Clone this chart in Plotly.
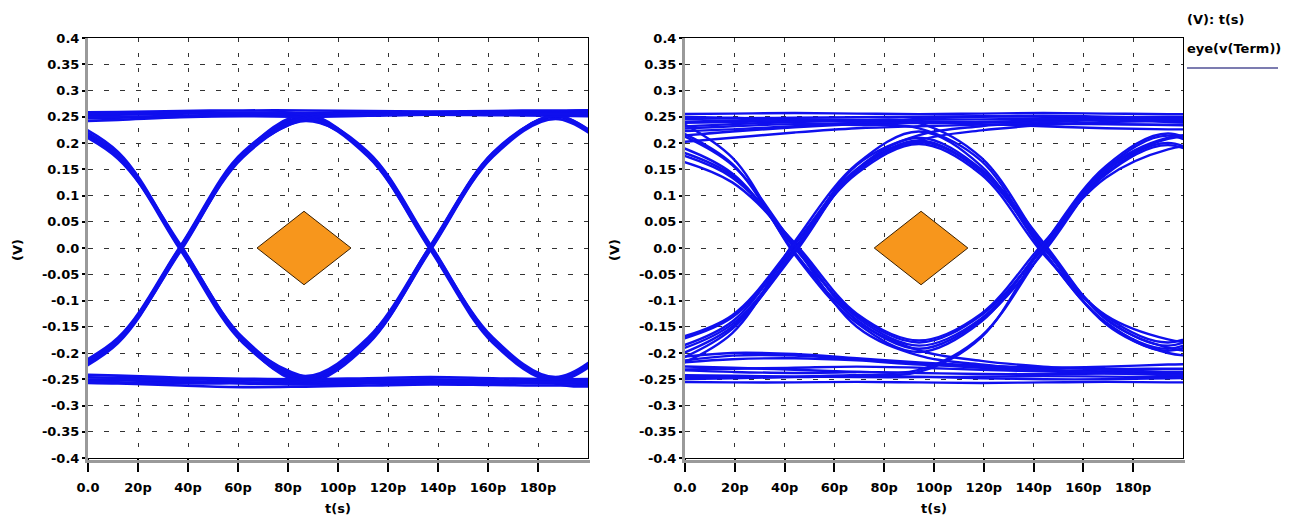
import plotly.graph_objects as go

W, H = 1292, 519

# ---------------- data ----------------
# sample times (ps) of every eye trace (samples outside 0..200 are clipped by the axis)
LEFT_T = [-13, 12, 37, 62, 87, 112, 137, 162, 187, 212]
RIGHT_T = [-6, 19, 44, 69, 94, 119, 144, 169, 194, 219]

# left eye: voltage traces (V) at LEFT_T
LEFT_WAVES = [
    # fall - rise
    [0.250, 0.178, 0.000, -0.176, -0.248, -0.176, 0.000, 0.178, 0.250, 0.178],
    [0.245, 0.173, -0.004, -0.181, -0.252, -0.181, -0.004, 0.174, 0.246, 0.175],
    [0.240, 0.170, 0.004, -0.171, -0.244, -0.171, 0.004, 0.181, 0.254, 0.255],
    [0.255, 0.183, 0.002, -0.178, -0.256, -0.183, -0.002, 0.176, 0.252, 0.180],
    [0.248, 0.176, 0.006, -0.173, -0.250, -0.178, 0.005, 0.182, 0.256, 0.258],
    # rise - fall
    [-0.250, -0.176, 0.000, 0.178, 0.250, 0.178, 0.000, -0.176, -0.250, -0.176],
    [-0.242, -0.171, 0.004, 0.183, 0.246, 0.174, -0.004, -0.181, -0.254, -0.182],
    [-0.255, -0.181, -0.004, 0.173, 0.242, 0.181, 0.004, -0.171, -0.246, -0.172],
    [-0.246, -0.174, 0.002, 0.180, 0.254, 0.176, -0.002, -0.178, -0.258, -0.258],
    [-0.252, -0.178, -0.006, 0.176, 0.248, 0.183, 0.006, -0.174, -0.252, -0.170],
    # high rail
    [0.252, 0.254, 0.256, 0.258, 0.257, 0.258, 0.259, 0.258, 0.257, 0.258],
    [0.246, 0.248, 0.250, 0.253, 0.254, 0.256, 0.255, 0.256, 0.254, 0.255],
    [0.258, 0.259, 0.261, 0.262, 0.262, 0.261, 0.260, 0.261, 0.262, 0.261],
    [0.240, 0.244, 0.249, 0.251, 0.250, 0.252, 0.254, 0.253, 0.252, 0.250],
    [0.250, 0.250, 0.252, 0.255, 0.256, 0.255, 0.257, 0.259, 0.260, 0.259],
    # low rail
    [-0.250, -0.252, -0.255, -0.256, -0.257, -0.256, -0.255, -0.256, -0.257, -0.256],
    [-0.245, -0.247, -0.250, -0.252, -0.254, -0.251, -0.250, -0.252, -0.253, -0.251],
    [-0.256, -0.258, -0.262, -0.265, -0.264, -0.262, -0.260, -0.261, -0.262, -0.260],
    [-0.240, -0.243, -0.247, -0.249, -0.250, -0.248, -0.246, -0.248, -0.250, -0.249],
    [-0.252, -0.250, -0.253, -0.258, -0.260, -0.258, -0.256, -0.255, -0.256, -0.255],
    # partial transitions
    [0.250, 0.175, 0.001, -0.178, -0.250, -0.256, -0.258, -0.257, -0.258, -0.257],
    [-0.250, -0.175, -0.001, 0.178, 0.250, 0.255, 0.258, 0.257, 0.258, 0.259],
    [0.255, 0.257, 0.258, 0.257, 0.252, 0.180, 0.001, -0.176, -0.250, -0.176],
    [-0.254, -0.256, -0.258, -0.257, -0.252, -0.178, -0.001, 0.178, 0.252, 0.178],
    [0.248, 0.178, -0.002, -0.176, -0.246, -0.252, -0.254, -0.253, -0.255, -0.254],
    [-0.246, -0.176, 0.002, 0.176, 0.246, 0.252, 0.255, 0.256, 0.255, 0.256],
]

# right eye: voltage traces (V) at RIGHT_T
RIGHT_WAVES = [
    # fall - rise
    [0.200, 0.142, 0.000, -0.128, -0.180, -0.128, 0.000, 0.142, 0.200, 0.140],
    [0.230, 0.160, -0.008, -0.137, -0.192, -0.137, -0.008, 0.146, 0.208, 0.210],
    [0.250, 0.172, -0.012, -0.143, -0.198, -0.140, 0.006, 0.152, 0.214, 0.150],
    [0.172, 0.125, 0.010, -0.125, -0.176, -0.125, 0.010, 0.134, 0.188, 0.200],
    [0.190, 0.138, 0.004, -0.132, -0.186, -0.134, 0.002, 0.140, 0.196, 0.138],
    # rise - fall
    [-0.180, -0.132, 0.000, 0.148, 0.205, 0.145, 0.000, -0.130, -0.180, -0.128],
    [-0.210, -0.150, -0.010, 0.150, 0.210, 0.150, 0.010, -0.136, -0.190, -0.200],
    [-0.230, -0.162, 0.012, 0.160, 0.222, 0.156, -0.008, -0.142, -0.196, -0.140],
    [-0.194, -0.140, 0.006, 0.142, 0.198, 0.140, -0.012, -0.128, -0.174, -0.186],
    [-0.200, -0.145, -0.004, 0.146, 0.202, 0.147, 0.004, -0.134, -0.186, -0.132],
    # high rail
    [0.255, 0.256, 0.257, 0.256, 0.255, 0.256, 0.257, 0.256, 0.255, 0.255],
    [0.245, 0.247, 0.248, 0.249, 0.250, 0.251, 0.250, 0.249, 0.250, 0.250],
    [0.230, 0.236, 0.240, 0.243, 0.244, 0.245, 0.246, 0.246, 0.245, 0.245],
    [0.212, 0.222, 0.230, 0.236, 0.240, 0.240, 0.238, 0.236, 0.234, 0.232],
    [0.200, 0.210, 0.220, 0.228, 0.232, 0.235, 0.236, 0.236, 0.235, 0.235],
    [0.238, 0.240, 0.242, 0.241, 0.240, 0.236, 0.232, 0.228, 0.226, 0.226],
    [0.222, 0.226, 0.232, 0.238, 0.246, 0.250, 0.252, 0.250, 0.248, 0.248],
    [0.250, 0.248, 0.244, 0.240, 0.238, 0.240, 0.243, 0.245, 0.240, 0.236],
    # low rail
    [-0.255, -0.256, -0.256, -0.255, -0.256, -0.257, -0.256, -0.255, -0.256, -0.256],
    [-0.242, -0.243, -0.245, -0.246, -0.246, -0.245, -0.244, -0.245, -0.246, -0.246],
    [-0.225, -0.228, -0.232, -0.236, -0.238, -0.240, -0.240, -0.239, -0.238, -0.238],
    [-0.210, -0.200, -0.202, -0.210, -0.218, -0.224, -0.228, -0.230, -0.230, -0.230],
    [-0.218, -0.205, -0.205, -0.212, -0.220, -0.228, -0.232, -0.235, -0.236, -0.236],
    [-0.232, -0.230, -0.228, -0.226, -0.228, -0.232, -0.235, -0.238, -0.240, -0.240],
    [-0.250, -0.248, -0.246, -0.244, -0.245, -0.248, -0.250, -0.250, -0.248, -0.246],
    [-0.220, -0.212, -0.210, -0.214, -0.222, -0.226, -0.228, -0.226, -0.222, -0.220],
    # partial transitions
    [0.225, 0.158, 0.004, -0.150, -0.205, -0.222, -0.232, -0.238, -0.242, -0.242],
    [0.184, 0.134, 0.008, -0.138, -0.195, -0.215, -0.226, -0.232, -0.236, -0.236],
    [-0.220, -0.154, -0.004, 0.158, 0.215, 0.232, 0.240, 0.244, 0.246, 0.246],
    [-0.176, -0.128, 0.008, 0.150, 0.205, 0.224, 0.234, 0.240, 0.242, 0.242],
    [0.240, 0.243, 0.245, 0.244, 0.238, 0.172, 0.004, -0.145, -0.200, -0.205],
    [0.226, 0.232, 0.236, 0.234, 0.228, 0.166, -0.006, -0.142, -0.192, -0.136],
    [-0.232, -0.236, -0.238, -0.236, -0.232, -0.168, -0.004, 0.150, 0.210, 0.215],
    [-0.246, -0.246, -0.245, -0.242, -0.236, -0.170, 0.006, 0.156, 0.218, 0.155],
]

# eye masks (diamonds)
LEFT_MASK_T = [67.6, 86.4, 105.2, 86.4, 67.6]
RIGHT_MASK_T = [76.0, 94.8, 113.6, 94.8, 76.0]
MASK_V = [0.0, 0.07, 0.0, -0.07, 0.0]

Y_TICKS = [0.4, 0.35, 0.3, 0.25, 0.2, 0.15, 0.1, 0.05, 0.0,
           -0.05, -0.1, -0.15, -0.2, -0.25, -0.3, -0.35, -0.4]
Y_LABELS = ["0.4", "0.35", "0.3", "0.25", "0.2", "0.15", "0.1", "0.05", "0.0",
            "-0.05", "-0.1", "-0.15", "-0.2", "-0.25", "-0.3", "-0.35", "-0.4"]
X_TICKS = [0, 20, 40, 60, 80, 100, 120, 140, 160, 180]
X_LABELS = ["0.0", "20p", "40p", "60p", "80p", "100p", "120p", "140p", "160p", "180p"]

# ---------------- figure ----------------
TRACE_COLOR = "#0F0FEE"
MASK_COLOR = "#F7961C"
FONT = dict(family="DejaVu Sans", size=13, color="black")


def bold(s):
    return "<b>" + s + "</b>"


fig = go.Figure()

for t, waves, xa, ya, mt, lw in [
    (LEFT_T, LEFT_WAVES, "x", "y", LEFT_MASK_T, 2.6),
    (RIGHT_T, RIGHT_WAVES, "x2", "y2", RIGHT_MASK_T, 2.4),
]:
    for w in waves:
        fig.add_trace(go.Scatter(
            x=t, y=w, xaxis=xa, yaxis=ya, mode="lines",
            line=dict(color=TRACE_COLOR, width=lw, shape="spline", smoothing=1.0),
            showlegend=False, hoverinfo="skip"))
    fig.add_trace(go.Scatter(
        x=mt, y=MASK_V, xaxis=xa, yaxis=ya, mode="lines",
        fill="toself", fillcolor=MASK_COLOR,
        line=dict(color="#3a2000", width=1), showlegend=False, hoverinfo="skip"))


def px_x(p):
    return p / W


def px_y(p):
    return 1 - p / H


L0, L1 = 88, 588
R0, R1 = 685, 1183
T0, B0 = 38, 458

axis_common = dict(
    showline=True, linecolor="black", linewidth=1, mirror=True,
    showgrid=True, gridcolor="#333333", gridwidth=1.4,
    zeroline=False, ticks="outside", tickcolor="black",
    tickfont=FONT, automargin=False,
)
xb = [bold(s) for s in X_LABELS]
yb = [bold(s) for s in Y_LABELS]

fig.update_layout(
    width=W, height=H,
    margin=dict(l=0, r=0, t=0, b=0),
    paper_bgcolor="white", plot_bgcolor="white",
    xaxis=dict(domain=[px_x(L0), px_x(L1)], range=[0, 200], anchor="y",
               tickvals=X_TICKS, ticktext=xb, ticklen=13, tickwidth=2,
               ticklabelstandoff=4, griddash="4px,11px", **axis_common),
    yaxis=dict(domain=[px_y(B0), px_y(T0)], range=[-0.4, 0.4], anchor="x",
               tickvals=Y_TICKS, ticktext=yb, ticklen=5, tickwidth=2,
               griddash="5px,11px", **axis_common),
    xaxis2=dict(domain=[px_x(R0), px_x(R1)], range=[0, 200], anchor="y2",
                tickvals=X_TICKS, ticktext=xb, ticklen=13, tickwidth=2,
                ticklabelstandoff=4, griddash="4px,11px", **axis_common),
    yaxis2=dict(domain=[px_y(B0), px_y(T0)], range=[-0.4, 0.4], anchor="x2",
                tickvals=Y_TICKS, ticktext=yb, ticklen=5, tickwidth=2,
                griddash="5px,11px", **axis_common),
)

shapes = []
# grey shadow bands along left and bottom axes
for a0, a1 in [(L0, L1), (R0, R1)]:
    shapes.append(dict(type="rect", xref="paper", yref="paper",
                       x0=px_x(a0 - 3), x1=px_x(a0), y0=px_y(B0 + 4), y1=px_y(T0),
                       fillcolor="#9a9a9a", line=dict(width=0)))
    shapes.append(dict(type="rect", xref="paper", yref="paper",
                       x0=px_x(a0 - 3), x1=px_x(a1 + 2), y0=px_y(B0 + 5), y1=px_y(B0 + 2),
                       fillcolor="#9a9a9a", line=dict(width=0)))
# legend sample line
shapes.append(dict(type="line", xref="paper", yref="paper",
                   x0=px_x(1187), x1=px_x(1278), y0=px_y(68), y1=px_y(68),
                   line=dict(color="#7c7cb0", width=2)))
fig.update_layout(shapes=shapes)

ann = []
for cx in [(L0 + L1) / 2, (R0 + R1) / 2]:
    ann.append(dict(text=bold("t(s)"), xref="paper", yref="paper", x=px_x(cx), y=px_y(508),
                    showarrow=False, font=FONT, xanchor="center", yanchor="middle"))
for cx in [18, 615]:
    ann.append(dict(text=bold("(V)"), xref="paper", yref="paper", x=px_x(cx), y=px_y(250),
                    showarrow=False, font=FONT, textangle=-90,
                    xanchor="center", yanchor="middle"))
ann.append(dict(text=bold("(V): t(s)"), xref="paper", yref="paper", x=px_x(1185), y=px_y(19),
                showarrow=False, font=FONT, xanchor="left", yanchor="middle"))
ann.append(dict(text=bold("eye(v(Term))"), xref="paper", yref="paper", x=px_x(1185), y=px_y(49),
                showarrow=False, font=FONT, xanchor="left", yanchor="middle"))
fig.update_layout(annotations=ann)

fig.write_html("out.html")
